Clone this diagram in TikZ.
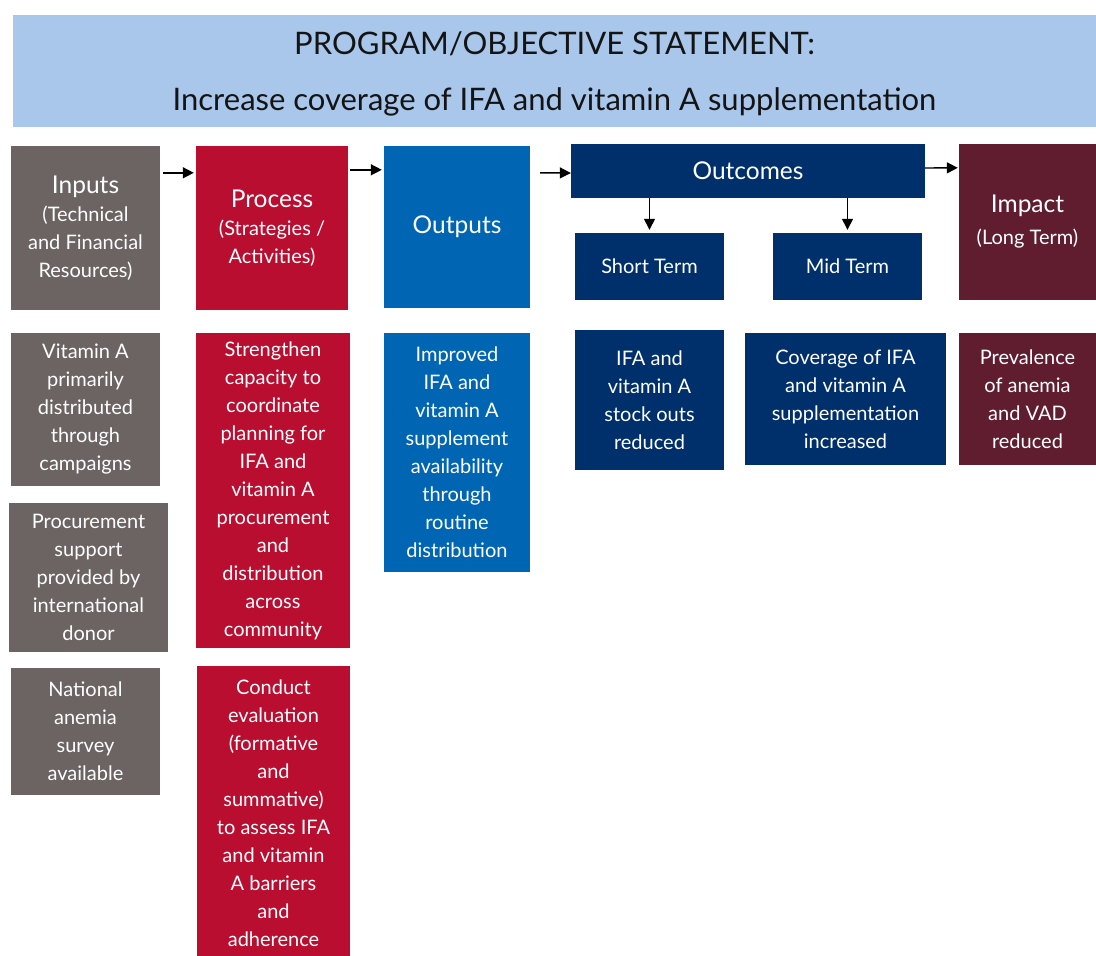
\documentclass[tikz,border=0pt]{standalone}
\usepackage{fontspec}
\setmainfont{Lato}
\usetikzlibrary{arrows.meta}
\definecolor{hdrblue}{RGB}{169,198,235}
\definecolor{ingray}{RGB}{107,100,98}
\definecolor{procred}{RGB}{185,14,47}
\definecolor{outblue}{RGB}{0,102,179}
\definecolor{navy}{RGB}{0,48,107}
\definecolor{maroon}{RGB}{97,29,48}
\definecolor{txtdark}{RGB}{20,20,20}
\tikzset{
  box/.style={rectangle, inner sep=0pt, align=center, text=white,
    font=\fontsize{20}{28}\selectfont},
  arr/.style={line width=1.4pt, -{Triangle[length=11pt,width=11pt]}}
}
\newcommand{\lbl}[1]{{\fontsize{24.5}{32}\selectfont #1}}
\begin{document}
\begin{tikzpicture}[x=1pt,y=-1pt]
\useasboundingbox (0,0) rectangle (1096,956);
% header
\node[rectangle, fill=hdrblue, minimum width=1083pt, minimum height=112pt, inner sep=0pt] (hdr) at (554.5,71) {};
\node[align=center, text=txtdark, font=\fontsize{31}{56}\selectfont, inner sep=0pt] (hdrtxt) at ([yshift=-3pt]hdr.center)
  {PROGRAM/OBJECTIVE STATEMENT:\\Increase coverage of IFA and vitamin A supplementation};
% top row
\node[box, fill=ingray, minimum width=149pt, minimum height=164pt] (inp) at (85.5,228)
  {\lbl{Inputs}\\(Technical\\and Financial\\Resources)};
\node[box, fill=procred, minimum width=152pt, minimum height=164pt] (proc) at (272,228)
  {\lbl{Process}\\(Strategies /\\Activities)};
\node[box, fill=outblue, minimum width=146pt, minimum height=162pt] (outp) at (457,227)
  {\lbl{Outputs}};
\node[box, fill=navy, minimum width=354pt, minimum height=54pt] (outc) at (748,171)
  {\lbl{Outcomes}};
\node[box, fill=maroon, minimum width=137pt, minimum height=156pt] (imp) at (1027.5,222)
  {{\fontsize{24.5}{38}\selectfont Impact}\\[4pt](Long Term)};
\node[box, fill=navy, minimum width=149pt, minimum height=67pt] (st) at (649.5,266.5) {Short Term};
\node[box, fill=navy, minimum width=149pt, minimum height=67pt] (mt) at (847.5,266.5) {Mid Term};
% second row
\node[box, fill=ingray, minimum width=149pt, minimum height=153pt] (vit) at (85.5,409.5)
  {Vitamin A\\primarily\\distributed\\through\\campaigns};
\node[box, fill=ingray, minimum width=159pt, minimum height=149pt] (procu) at (88.5,577.5)
  {Procurement\\support\\provided by\\international\\donor};
\node[box, fill=ingray, minimum width=149pt, minimum height=127pt] (nat) at (85.5,731.5)
  {National\\anemia\\survey\\available};
\node[box, fill=procred, minimum width=154pt, minimum height=315pt] (str) at (273,490.5)
  {Strengthen\\capacity to\\coordinate\\planning for\\IFA and\\vitamin A\\procurement\\and\\distribution\\across\\community};
\node[box, fill=procred, minimum width=153pt, minimum height=294pt] (cond) at (273.5,813)
  {Conduct\\evaluation\\(formative\\and\\summative)\\to assess IFA\\and vitamin\\A barriers\\and\\adherence};
\node[box, fill=outblue, minimum width=146pt, minimum height=239pt] (imprv) at (457,452.5)
  {Improved\\IFA and\\vitamin A\\supplement\\availability\\through\\routine\\distribution};
\node[box, fill=navy, minimum width=149pt, minimum height=140pt] (stock) at (649.5,400)
  {IFA and\\vitamin A\\stock outs\\reduced};
\node[box, fill=navy, minimum width=201pt, minimum height=132pt] (cov) at (845.5,399)
  {Coverage of IFA\\and vitamin A\\supplementation\\increased};
\node[box, fill=maroon, minimum width=137pt, minimum height=132pt] (prev) at (1027.5,399)
  {Prevalence\\of anemia\\and VAD\\reduced};
% arrows
\draw[arr] ([xshift=3pt,yshift=-27pt]inp.north east) -- ([xshift=-2pt,yshift=-27pt]proc.north west);
\draw[arr] ([xshift=2pt,yshift=-24pt]proc.north east) -- ([xshift=-2pt,yshift=-24pt]outp.north west);
\draw[arr] ([xshift=10pt,yshift=-27pt]outp.north east) -- ([yshift=-2pt]outc.west);
\draw[arr] ([yshift=3pt]outc.east) -- ([xshift=-1pt,yshift=-24pt]imp.north west);
\draw[arr] (st.north |- outc.south) -- ([yshift=3pt]st.north);
\draw[arr] (mt.north |- outc.south) -- ([yshift=3pt]mt.north);
\end{tikzpicture}
\end{document}
